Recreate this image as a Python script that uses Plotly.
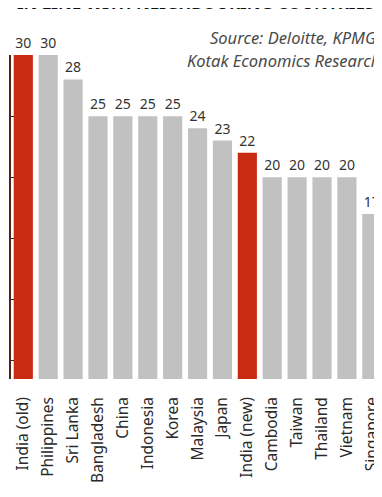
import plotly.graph_objects as go

countries = ["India (old)", "Philippines", "Sri Lanka", "Bangladesh", "China", "Indonesia",
             "Korea", "Malaysia", "Japan", "India (new)", "Cambodia", "Taiwan", "Thailand",
             "Vietnam", "Singapore"]
rates = [30, 30, 28, 25, 25, 25, 25, 24, 23, 22, 20, 20, 20, 20, 17]
highlight = ["India (old)", "India (new)"]
y_ticks = [5, 10, 15, 20, 25]

RED = "#c92a12"
GREY = "#c1c1c1"
AXIS = "#4a2418"

colors = [RED if c in highlight else GREY for c in countries]

fig = go.Figure(go.Bar(
    x=countries, y=rates, marker=dict(color=colors, line=dict(width=0)),
    text=[str(v) for v in rates], textposition="outside", cliponaxis=False,
    textfont=dict(family="Noto Sans", size=14, color="#333333"),
))

src_font = dict(family="Noto Sans", size=16.5, color="#4a4a4a")

fig.update_layout(
    width=374, height=489,
    margin=dict(l=3, r=0, t=47, b=118),
    paper_bgcolor="white", plot_bgcolor="white",
    bargap=0.23, showlegend=False,
    xaxis=dict(range=[-0.494, 14.41], showline=False, ticks="", showgrid=False,
               tickangle=-90, ticklabelstandoff=14,
               tickfont=dict(family="Noto Sans", size=15.5, color="#2a2a2a")),
    yaxis=dict(range=[3.5, 30], showline=True, linecolor=AXIS, linewidth=1.5,
               ticks="inside", ticklen=3, tickcolor=AXIS, tickvals=y_ticks,
               showticklabels=False, showgrid=False, zeroline=False),
    annotations=[
        dict(text="<i>Source: Deloitte, KPMG,</i>", xref="paper", yref="paper",
             x=1.0, y=1.0, xanchor="right", yanchor="middle", yshift=18, showarrow=False,
             font=src_font),
        dict(text="<i>Kotak Economics Research</i>", xref="paper", yref="paper",
             x=1.0, y=1.0, xanchor="right", yanchor="middle", yshift=-5, showarrow=False,
             font=src_font),
        dict(text="<b>IN LINE WITH NEIGHBOURING COUNTRIES</b>", xref="paper", yref="paper",
             x=0.0, y=1.0, xanchor="left", yanchor="bottom", xshift=4, yshift=39,
             showarrow=False, font=dict(family="Noto Sans", size=17, color="#111111")),
    ],
)

fig.write_html("out.html")
